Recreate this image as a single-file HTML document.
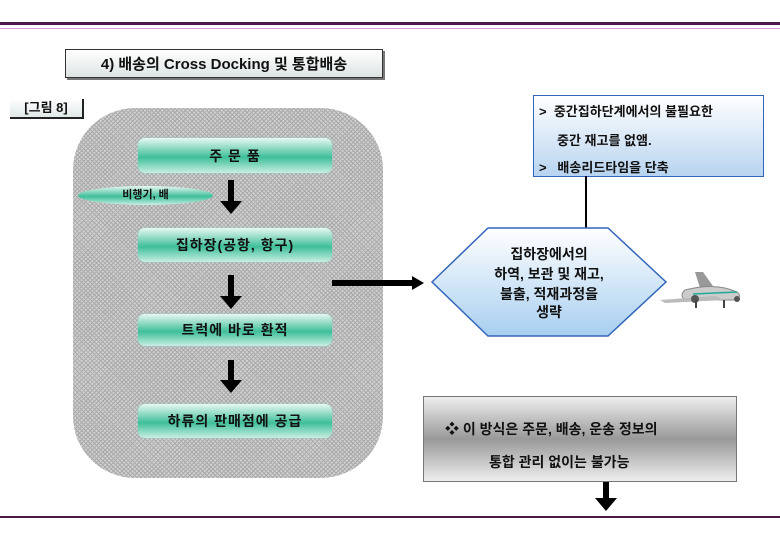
<!DOCTYPE html>
<html><head><meta charset="utf-8"><style>
body{margin:0;width:780px;height:540px;background:#fff;position:relative;overflow:hidden;font-family:"Liberation Sans","Noto Sans CJK KR","NanumGothic",sans-serif;font-weight:bold;color:#111}
.a{position:absolute}
.g{position:absolute;left:138px;width:194px;border-radius:7px;background:linear-gradient(#e8f8f2,#3fbf9a 55%,#c8efe2);display:flex;align-items:center;justify-content:center;font-size:14px;letter-spacing:1px;box-shadow:0 0 2px #9cc}
.arr{position:absolute;width:6px;background:#000}
.arr:after{content:"";position:absolute;left:-8px;bottom:-12px;border-left:11px solid transparent;border-right:11px solid transparent;border-top:13px solid #000}
</style></head><body>
<div class="a" style="left:0;top:22px;width:780px;height:3px;background:#4a1a4a"></div>
<div class="a" style="left:0;top:28px;width:780px;height:1px;background:#d9a0d9"></div>
<div class="a" style="left:0;top:516px;width:780px;height:2px;background:#4a1a4a"></div>

<div class="a" style="left:65px;top:49px;width:316px;height:27px;border:1px solid #333;background:linear-gradient(#fff,#dde4e4);box-shadow:2px 2px 0 #777;font-size:15px;display:flex;align-items:center;justify-content:center">4) 배송의 Cross Docking 및 통합배송</div>
<div class="a" style="left:10px;top:99px;width:72px;height:18px;border-right:2px solid #222;border-bottom:2px solid #222;background:linear-gradient(#fff,#e0e8e8);font-size:13px;text-align:center;line-height:18px">[그림 8]</div>

<div class="a" style="left:73px;top:108px;width:310px;height:370px;border-radius:62px;background-color:#d0d0d0;background-image:repeating-linear-gradient(45deg,#aaa 0 1px,transparent 1px 3px),repeating-linear-gradient(-45deg,#aaa 0 1px,transparent 1px 3px)"></div>

<div class="g" style="top:138px;height:35px">주 문 품</div>
<div class="a" style="left:78px;top:186px;width:135px;height:19px;border-radius:50%;background:linear-gradient(#e8f8f2,#3fbf9a 55%,#c8efe2);font-size:11px;text-align:center;line-height:19px">비행기, 배</div>
<div class="arr" style="left:228px;top:180px;height:22px"></div>
<div class="g" style="top:228px;height:34px">집하장(공항, 항구)</div>
<div class="arr" style="left:228px;top:275px;height:22px"></div>
<div class="g" style="top:314px;height:32px">트럭에 바로 환적</div>
<div class="arr" style="left:228px;top:360px;height:21px"></div>
<div class="g" style="top:404px;height:34px">하류의 판매점에 공급</div>

<div class="a" style="left:332px;top:280px;width:82px;height:6px;background:#000"></div>
<div class="a" style="left:412px;top:276px;border-top:7px solid transparent;border-bottom:7px solid transparent;border-left:12px solid #000"></div>

<div class="a" style="left:533px;top:95px;width:229px;height:80px;border:1px solid #3366bb;background:linear-gradient(#fff,#b8d4f0)"></div>
<div class="a" style="left:539px;top:101px;font-size:13px">&gt;&nbsp; 중간집하단계에서의 불필요한</div>
<div class="a" style="left:557px;top:130px;font-size:13px">중간 재고를 없앰.</div>
<div class="a" style="left:539px;top:157px;font-size:13px">&gt;&nbsp;&nbsp; 배송리드타임을 단축</div>
<div class="a" style="left:585px;top:176px;width:2px;height:53px;background:#000"></div>

<svg class="a" style="left:428px;top:226px" width="244" height="114">
<defs><linearGradient id="h" x1="0" y1="0" x2="0" y2="1"><stop offset="0" stop-color="#fff"/><stop offset="1" stop-color="#a8cff0"/></linearGradient></defs>
<polygon points="4,56 60,2 180,2 238,56 180,110 60,110" fill="url(#h)" stroke="#3366bb" stroke-width="1.5"/>
<g font-size="14" text-anchor="middle" fill="#111" font-weight="bold" font-family="Liberation Sans,Noto Sans CJK KR,sans-serif">
<text x="121" y="33">집하장에서의</text><text x="121" y="53">하역, 보관 및 재고,</text><text x="121" y="73">불출, 적재과정을</text><text x="121" y="91">생략</text></g>
</svg>

<svg class="a" style="left:655px;top:270px" width="95" height="45">
<path d="M45,18 L40,2 L48,2 L58,16 Z" fill="#999"/>
<path d="M30,20 Q60,12 82,22 Q88,27 80,30 L30,30 Q24,25 30,20Z" fill="#ccc" stroke="#888"/>
<path d="M38,24 L82,22" stroke="#2a9" stroke-width="1.5"/>
<path d="M5,30 L60,26 L70,30 L10,33Z" fill="#bbb"/>
<circle cx="40" cy="29" r="4" fill="#555"/><circle cx="82" cy="29" r="3" fill="#555"/>
<rect x="40" y="30" width="2" height="8" fill="#444"/><rect x="68" y="30" width="2" height="8" fill="#444"/>
</svg>

<div class="a" style="left:423px;top:396px;width:312px;height:84px;border:1px solid #777;background:linear-gradient(#eee,#999 50%,#eee)"></div>
<div class="a" style="left:445px;top:419px;font-size:14px">❖ 이 방식은 주문, 배송, 운송 정보의</div>
<div class="a" style="left:489px;top:452px;font-size:14px">통합 관리 없이는 불가능</div>
<div class="arr" style="left:603px;top:482px;height:17px"></div>
</body></html>
